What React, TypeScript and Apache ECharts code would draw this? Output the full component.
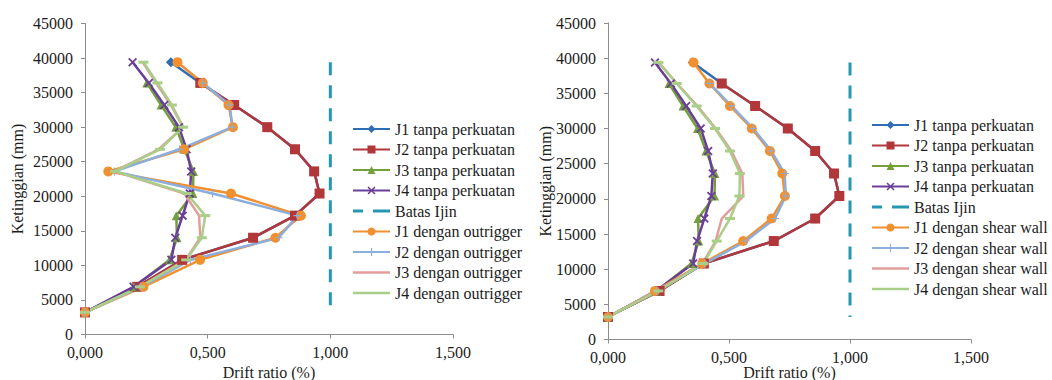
import React, { useEffect, useRef } from 'react';
import * as echarts from 'echarts';

// Storey heights (mm) shared by every profile
const HEIGHTS = [3200, 6900, 10800, 14000, 17200, 20400, 23600, 26800, 30000, 33200, 36400, 39400];

const X_TICK_LABELS = ['0,000', '0,500', '1,000', '1,500'];
const DRIFT_LIMIT = 1.0;

// Drift ratio (%) per storey, bottom to top; null = no value at that storey
const J1_TANPA = [0, 0.213, 0.396, 0.685, 0.856, 0.956, 0.934, 0.856, 0.743, 0.608, 0.47, 0.35];
const J2_TANPA = [0, 0.213, 0.396, 0.685, 0.856, 0.956, 0.934, 0.856, 0.743, 0.608, 0.47, null];
const J3_TANPA = [0, 0.2, 0.345, 0.375, 0.372, 0.44, 0.442, 0.405, 0.37, 0.31, 0.252, null];
const J4_TANPA = [0, 0.198, 0.352, 0.368, 0.398, 0.427, 0.433, 0.414, 0.383, 0.323, 0.26, 0.194];

const J1_OUTRIGGER = [0, 0.238, 0.469, 0.776, 0.88, 0.595, 0.095, 0.404, 0.603, 0.585, 0.48, 0.377];
const J2_OUTRIGGER = [0, 0.23, 0.43, 0.79, 0.866, 0.52, 0.12, 0.385, 0.6, 0.59, 0.48, null];
const J3_OUTRIGGER = [0, 0.224, 0.41, 0.47, 0.465, 0.405, 0.12, 0.3, 0.4, 0.35, 0.29, 0.235];
const J4_OUTRIGGER = [0, 0.224, 0.412, 0.476, 0.49, 0.415, 0.122, 0.306, 0.4, 0.354, 0.295, 0.238];

const J1_SHEAR = [0, 0.194, 0.39, 0.559, 0.676, 0.731, 0.72, 0.669, 0.594, 0.504, 0.419, 0.353];
const J2_SHEAR = [0, 0.2, 0.4, 0.57, 0.69, 0.735, 0.73, 0.675, 0.6, 0.51, 0.42, null];
const J3_SHEAR = [0, 0.205, 0.39, 0.445, 0.47, 0.559, 0.555, 0.51, 0.445, 0.37, 0.285, 0.21];
const J4_SHEAR = [0, 0.208, 0.394, 0.449, 0.504, 0.543, 0.545, 0.504, 0.442, 0.366, 0.284, 0.208];

const FONT = '"Liberation Serif", "Times New Roman", serif';
const TEXT = '#1c1c1c';
const AXIS = '#8c8c8c';
const LIMIT_COLOR = '#2597B3';

const X_MARK = 'path://M0,1.4L1.4,0L5,3.6L8.6,0L10,1.4L6.4,5L10,8.6L8.6,10L5,6.4L1.4,10L0,8.6L3.6,5Z';
const PLUS_MARK = 'path://M4.3,0H5.7V4.3H10V5.7H5.7V10H4.3V5.7H0V4.3H4.3Z';
const DASH_MARK = 'path://M0,0H10V3H0Z';

// Legend keys that are drawn as a plain line or a broken line
const PLAIN_KEY = 'path://M0,0H37V2.5H0Z';
const BROKEN_KEY = 'path://M0,0H10V3H0Z M20,0H37V3H20Z';

type Look = { color: string; symbol: string; size: number | number[] };

const LOOK: Record<string, Look> = {
  j1t: { color: '#2F6DB5', symbol: 'diamond', size: 10 },
  j2t: { color: '#B2373B', symbol: 'rect', size: 10 },
  j3t: { color: '#74A03C', symbol: 'triangle', size: 9 },
  j4t: { color: '#6A3E98', symbol: X_MARK, size: 9 },
  j1d: { color: '#F2902F', symbol: 'circle', size: 10 },
  j2d: { color: '#8CAEDC', symbol: PLUS_MARK, size: 8 },
  j3d: { color: '#E39C9C', symbol: 'none', size: 0 },
  j4d: { color: '#A8CE87', symbol: DASH_MARK, size: [10, 3] },
};

const toPoints = (values: (number | null)[]) =>
  HEIGHTS.map((h, i) => (values[i] == null ? null : [values[i], h])).filter((p) => p !== null);

const lineSeries = (name: string, values: (number | null)[], look: Look, idx: number) => ({
  type: 'line',
  name,
  xAxisIndex: idx,
  yAxisIndex: idx,
  data: toPoints(values),
  symbol: look.symbol,
  symbolSize: look.size,
  showSymbol: look.symbol !== 'none',
  lineStyle: { color: look.color, width: 2.5 },
  itemStyle: { color: look.color, borderWidth: 0 },
  emphasis: { disabled: true },
});

const limitSeries = (idx: number) => ({
  type: 'line',
  name: 'Batas Ijin',
  xAxisIndex: idx,
  yAxisIndex: idx,
  data: [...HEIGHTS].reverse().map((h) => [DRIFT_LIMIT, h]),
  symbol: 'none',
  showSymbol: false,
  lineStyle: { color: LIMIT_COLOR, width: 3, type: [13, 10] },
  itemStyle: { color: LIMIT_COLOR },
  emphasis: { disabled: true },
});

const axisText = { fontFamily: FONT, fontSize: 16, color: TEXT };

const xAxis = (idx: number, gap: number) => ({
  type: 'value',
  gridIndex: idx,
  min: 0,
  max: 1.5,
  interval: 0.5,
  name: 'Drift ratio (%)',
  nameLocation: 'middle',
  nameGap: gap,
  nameMoveOverlap: false,
  nameTextStyle: { ...axisText, lineHeight: 14, verticalAlign: 'top' },
  axisLine: { show: true, onZero: false, lineStyle: { color: AXIS, width: 1 } },
  axisTick: { show: true, length: 4, lineStyle: { color: AXIS } },
  axisLabel: {
    ...axisText,
    margin: 10,
    formatter: (v: number) => X_TICK_LABELS[Math.round(v / 0.5)] ?? '',
  },
  splitLine: { show: false },
});

const yAxis = (idx: number, gap: number) => ({
  type: 'value',
  gridIndex: idx,
  min: 0,
  max: 45000,
  interval: 5000,
  name: 'Ketinggian (mm)',
  nameLocation: 'middle',
  nameGap: gap,
  nameMoveOverlap: false,
  nameTextStyle: axisText,
  axisLine: { show: true, onZero: false, lineStyle: { color: AXIS, width: 1 } },
  axisTick: { show: true, length: 4, lineStyle: { color: AXIS } },
  axisLabel: { ...axisText, margin: 12, formatter: (v: number) => String(v) },
  splitLine: { show: false },
});

const TANPA_NAMES = ['J1 tanpa perkuatan', 'J2 tanpa perkuatan', 'J3 tanpa perkuatan', 'J4 tanpa perkuatan'];
const OUTRIGGER_NAMES = ['J1 dengan outrigger', 'J2 dengan outrigger', 'J3 dengan outrigger', 'J4 dengan outrigger'];
const SHEAR_NAMES = ['J1 dengan shear wall', 'J2 dengan shear wall', 'J3 dengan shear wall', 'J4 dengan shear wall'];

const panelSeries = (idx: number, names: string[], sets: (number | null)[][]) => [
  lineSeries(TANPA_NAMES[0], J1_TANPA, LOOK.j1t, idx),
  lineSeries(TANPA_NAMES[1], J2_TANPA, LOOK.j2t, idx),
  lineSeries(TANPA_NAMES[2], J3_TANPA, LOOK.j3t, idx),
  lineSeries(TANPA_NAMES[3], J4_TANPA, LOOK.j4t, idx),
  limitSeries(idx),
  lineSeries(names[0], sets[0], LOOK.j1d, idx),
  lineSeries(names[1], sets[1], LOOK.j2d, idx),
  lineSeries(names[2], sets[2], LOOK.j3d, idx),
  lineSeries(names[3], sets[3], LOOK.j4d, idx),
];

const legend = (left: number, top: number, names: string[]) => ({
  orient: 'vertical',
  left,
  top,
  padding: 0,
  itemWidth: 37,
  itemHeight: 10,
  itemGap: 4.5,
  selectedMode: false,
  data: [
    ...TANPA_NAMES,
    { name: 'Batas Ijin', icon: BROKEN_KEY },
    names[0],
    names[1],
    { name: names[2], icon: PLAIN_KEY },
    { name: names[3], icon: PLAIN_KEY },
  ],
  textStyle: { fontFamily: FONT, fontSize: 16, color: TEXT, lineHeight: 16 },
});

export default function App() {
  const ref = useRef<HTMLDivElement>(null);

  useEffect(() => {
    if (!ref.current) return;
    const chart = echarts.init(ref.current, null, { renderer: 'svg' });
    chart.setOption({
      animation: false,
      backgroundColor: '#ffffff',
      grid: [
        { left: 85, top: 23.5, width: 368, height: 311, outerBoundsMode: 'none', containLabel: false },
        { left: 608, top: 23, width: 363, height: 316.5, outerBoundsMode: 'none', containLabel: false },
      ],
      xAxis: [xAxis(0, 31), xAxis(1, 26)],
      yAxis: [yAxis(0, 60), yAxis(1, 55)],
      legend: [legend(352, 121, OUTRIGGER_NAMES), legend(871, 117, SHEAR_NAMES)],
      series: [
        ...panelSeries(0, OUTRIGGER_NAMES, [J1_OUTRIGGER, J2_OUTRIGGER, J3_OUTRIGGER, J4_OUTRIGGER]),
        ...panelSeries(1, SHEAR_NAMES, [J1_SHEAR, J2_SHEAR, J3_SHEAR, J4_SHEAR]),
      ],
    });
    return () => chart.dispose();
  }, []);

  return (
    <div
      ref={ref}
      style={{ position: 'absolute', left: 0, top: 0, width: 1052, height: 380, background: '#fff' }}
    />
  );
}
